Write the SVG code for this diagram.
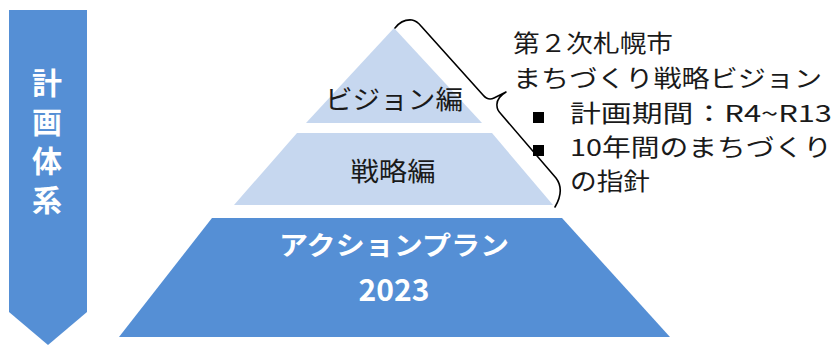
<svg xmlns="http://www.w3.org/2000/svg" width="834" height="346" viewBox="0 0 834 346">
<style>
.light{fill:#C6D7EF}
.dark{fill:#558FD5}
.t{font-family:"Noto Sans CJK JP","Noto Sans",sans-serif;font-size:26px;fill:#1a1a1a}
.d{font-family:"Noto Sans CJK JP","Noto Sans",sans-serif;font-size:23.5px;fill:#1a1a1a}
.w{font-family:"Noto Sans CJK JP","Noto Sans",sans-serif;font-size:26px;font-weight:bold;fill:#ffffff}
.b{font-family:"Noto Sans CJK JP","Noto Sans",sans-serif;font-size:30px;font-weight:bold;fill:#ffffff}
.v{font-family:"Noto Sans CJK JP","Noto Sans",sans-serif;font-size:30px;font-weight:bold;fill:#ffffff;writing-mode:vertical-rl;letter-spacing:9px}
.brace{fill:none;stroke:#000;stroke-width:1.6;stroke-linejoin:round;stroke-linecap:round}
</style>
<rect width="834" height="346" fill="#ffffff"/>
<g id="banner">
<polygon class="dark" points="9,10 87,10 87,312 48,345 9,312"/>
<text class="v" x="47" y="68">計画体系</text>
</g>
<g id="vision">
<polygon class="light" points="394,28 482,123 306,123"/>
<text class="t" x="394" y="109" text-anchor="middle" textLength="138" lengthAdjust="spacingAndGlyphs">ビジョン編</text>
</g>
<g id="strategy">
<polygon class="light" points="297,133 492,133 553,205 234,205"/>
<text class="t" x="393" y="181" text-anchor="middle" textLength="85" lengthAdjust="spacingAndGlyphs">戦略編</text>
</g>
<g id="action">
<polygon class="dark" points="212,218 562,218 670,337 119,337"/>
<text class="w" x="394" y="255" text-anchor="middle" textLength="230" lengthAdjust="spacingAndGlyphs">アクションプラン</text>
<text class="b" x="394" y="301" text-anchor="middle">2023</text>
</g>
<g id="connectors">
<path class="brace" d="M395,28 Q402,19 412,20 Q417,21 421,26 L483,95 Q488,101 494,98 L506,92 Q496,98 497,106 Q497,110 501,114 L556,178 Q565,190 555,207"/>
</g>
<g id="description">
<text class="d" x="513" y="52" textLength="160" lengthAdjust="spacingAndGlyphs">第２次札幌市</text>
<text class="d" x="513" y="87" textLength="309" lengthAdjust="spacingAndGlyphs">まちづくり戦略ビジョン</text>
<rect x="533" y="112" width="11" height="11" fill="#000"/>
<text class="d" x="570" y="122" textLength="262" lengthAdjust="spacingAndGlyphs">計画期間：R4~R13</text>
<rect x="533" y="145" width="11" height="11" fill="#000"/>
<text class="d" x="570" y="156" textLength="262" lengthAdjust="spacingAndGlyphs">10年間のまちづくり</text>
<text class="d" x="570" y="190" textLength="80" lengthAdjust="spacingAndGlyphs">の指針</text>
</g>
</svg>
